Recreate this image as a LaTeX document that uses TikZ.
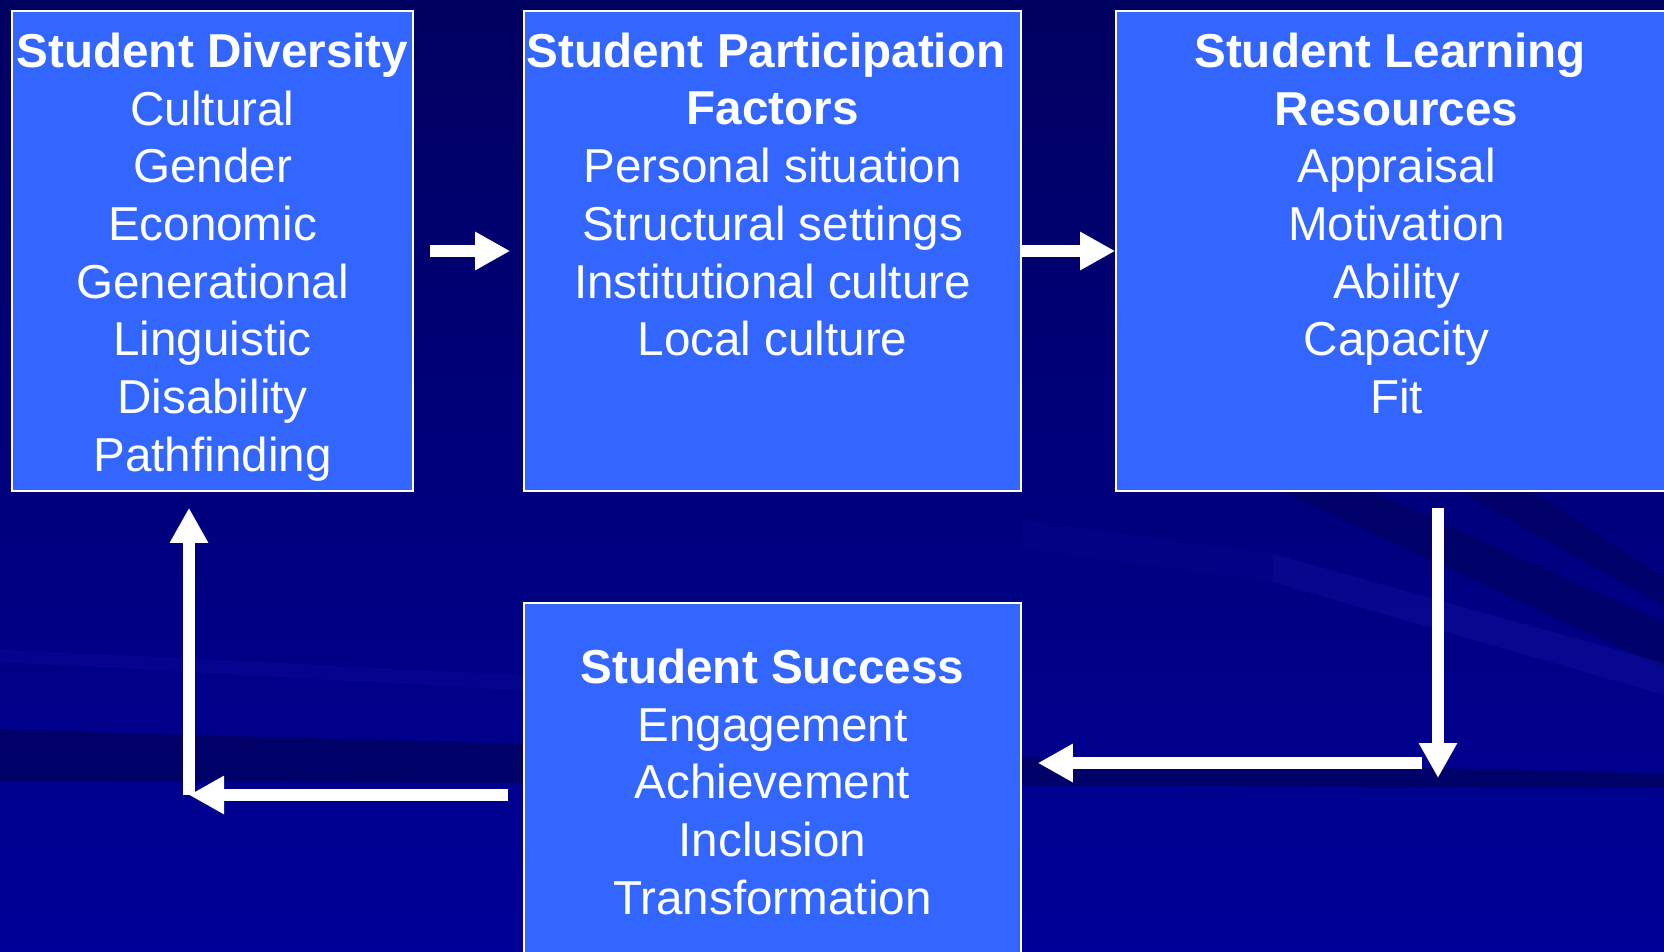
\documentclass[tikz,border=0pt]{standalone}
\usepackage{fontspec}
\setmainfont{Liberation Sans}
\usetikzlibrary{arrows.meta}

\definecolor{panelblue}{RGB}{51,102,255}
\definecolor{bgtop}{RGB}{0,0,96}
\definecolor{bgbottom}{RGB}{0,0,152}
\definecolor{bgdark}{RGB}{0,0,90}
\definecolor{bglight}{RGB}{24,24,170}

\begin{document}
\begin{tikzpicture}[x=1pt, y=-1pt,
    panel/.style={draw=white, line width=1.6pt, fill=panelblue, inner sep=0pt},
    panel text/.style={text=white, align=center, anchor=north, inner sep=0pt,
        font=\fontsize{47.6}{57.7}\selectfont, execute at begin node=\strut},
    flow/.style={draw=white, line width=12.5pt,
        -{Triangle[width=36pt, length=35pt]}}
]
    % Background
    \clip (0,0) rectangle (1664,951);
    \shade[top color=bgtop, bottom color=bgbottom] (0,0) rectangle (1664,951);

    % Streaks
    \fill[bgdark, opacity=0.7] (0,730) -- (1664,774) -- (1664,788) -- (0,781) -- cycle;
    \fill[bglight, opacity=0.2] (0,649) -- (700,684) -- (700,700) -- (0,662) -- cycle;
    \fill[bgdark, opacity=0.6] (1258,480) -- (1345,480) -- (1664,622) -- (1664,668) -- cycle;
    \fill[bgdark, opacity=0.6] (1440,480) -- (1515,480) -- (1664,578) -- (1664,606) -- cycle;
    \fill[bglight, opacity=0.3] (1273,554) -- (1664,663) -- (1664,695) -- (1273,582) -- cycle;
    \fill[bglight, opacity=0.12] (1021,520) -- (1273,554) -- (1273,582) -- (1021,548) -- cycle;

    % Boxes
    \node[panel, minimum width=401, minimum height=480] (div) at (212.5,251) {};
    \node[panel, minimum width=497, minimum height=480] (part) at (772.5,251) {};
    \node[panel, minimum width=561, minimum height=480] (res) at (1396.5,251) {};
    \node[panel, minimum width=497, minimum height=420] (succ) at (772.5,813) {};

    % Box texts
    \node[panel text] (div-txt) at ([yshift=-22.4pt]div.north)
        {\textbf{Student Diversity}\\Cultural\\Gender\\Economic\\Generational\\Linguistic\\Disability\\Pathfinding};
    \node[panel text] (part-txt) at ([yshift=-22.4pt]part.north)
        {\textbf{Student Participation}\kern13pt\\\textbf{Factors}\\Personal situation\\Structural settings\\Institutional culture\\Local culture};
    \node[panel text] (res-txt) at ([yshift=-22.4pt]res.north)
        {\textbf{Student Learning}\kern13pt\\\textbf{Resources}\\Appraisal\\Motivation\\Ability\\Capacity\\Fit};
    \node[panel text] (succ-txt) at ([yshift=-46.4pt]succ.north)
        {\textbf{Student Success}\\Engagement\\Achievement\\Inclusion\\Transformation};

    % Arrows
    \coordinate (dropR) at (1438,778);
    \coordinate (turnR) at (1422,763);
    \coordinate (turnL) at (189,795);

    \draw[flow, shorten <=16pt, shorten >=13pt] (div) -- (part);
    \draw[flow] (part) -- (res);
    \draw[flow, shorten <=16pt] (res.south -| dropR) -- (dropR);
    \draw[flow, shorten >=16pt] (turnR) -- (turnR -| succ.east);
    \draw[flow, shorten <=15pt] (succ.west |- turnL) -- (turnL);
    \draw[flow, shorten >=16pt] (turnL) -- (turnL |- div.south);
\end{tikzpicture}
\end{document}
